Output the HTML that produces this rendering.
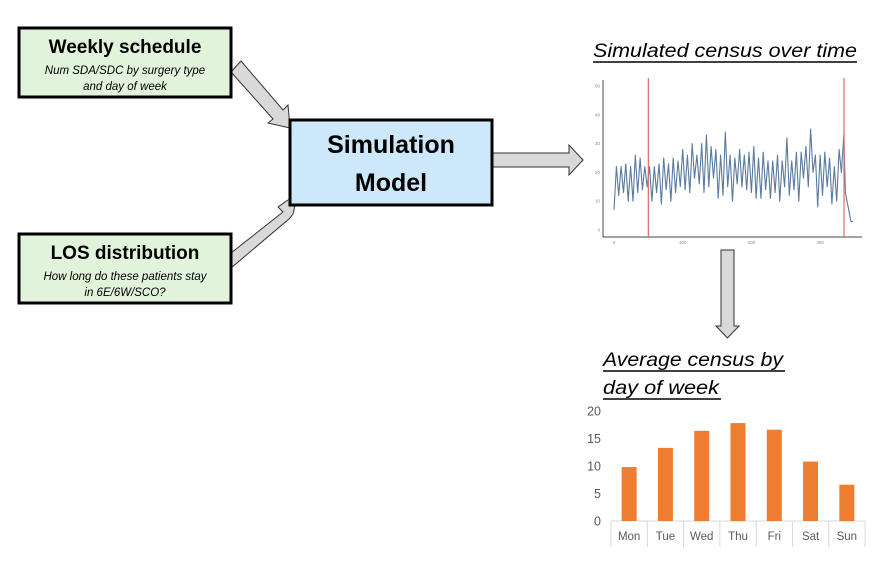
<!DOCTYPE html>
<html><head><meta charset="utf-8"><style>
body{margin:0;background:#fff;width:881px;height:575px;overflow:hidden}
svg{display:block;font-family:"Liberation Sans",sans-serif}
</style></head><body>
<svg id="root" width="881" height="575" viewBox="0 0 881 575">
<polygon points="231,72 241,61 283,110 288,105 290,128 268,123 273,119" fill="#d9d9d9" stroke="#333" stroke-width="1"/>
<polygon points="231,268 231,253 283,212 278,207 298,193 293,214 289,219" fill="#d9d9d9" stroke="#333" stroke-width="1"/>
<polygon points="492,153 569,153 569,145 583,160 569,175 569,167 492,167" fill="#d9d9d9" stroke="#333" stroke-width="1"/>
<polygon points="721,250 734,250 734,326 739,326 727.5,338 716,326 721,326" fill="#d9d9d9" stroke="#333" stroke-width="1"/>
<g>
<rect x="19" y="28" width="212" height="69" fill="#e2f3dc" stroke="#000" stroke-width="3"/>
<text x="125" y="53" text-anchor="middle" font-size="19" font-weight="bold">Weekly schedule</text>
<text x="125" y="74" text-anchor="middle" font-size="11.5" font-style="italic">Num SDA/SDC by surgery type</text>
<text x="125" y="90" text-anchor="middle" font-size="11.5" font-style="italic">and day of week</text>
</g>
<g>
<rect x="19" y="234" width="212" height="69" fill="#e2f3dc" stroke="#000" stroke-width="3"/>
<text x="125" y="259" text-anchor="middle" font-size="19" font-weight="bold">LOS distribution</text>
<text x="125" y="280" text-anchor="middle" font-size="11.5" font-style="italic">How long do these patients stay</text>
<text x="125" y="296" text-anchor="middle" font-size="11.5" font-style="italic">in 6E/6W/SCO?</text>
</g>
<g>
<rect x="290" y="120" width="202" height="85" fill="#cde8fa" stroke="#000" stroke-width="3"/>
<text x="391" y="153" text-anchor="middle" font-size="25" font-weight="bold">Simulation</text>
<text x="391" y="191" text-anchor="middle" font-size="25" font-weight="bold">Model</text>
</g>
<text x="593" y="57" font-size="19" font-style="italic" textLength="264" lengthAdjust="spacingAndGlyphs">Simulated census over time</text>
<line x1="593" y1="62" x2="857" y2="62" stroke="#000" stroke-width="1.5"/>
<text x="603" y="366" font-size="19" font-style="italic" textLength="180" lengthAdjust="spacingAndGlyphs">Average census by</text>
<line x1="603" y1="371" x2="785" y2="371" stroke="#000" stroke-width="1.5"/>
<text x="603" y="394" font-size="19" font-style="italic" textLength="116" lengthAdjust="spacingAndGlyphs">day of week</text>
<line x1="603" y1="399" x2="721" y2="399" stroke="#000" stroke-width="1.5"/>
<g id="linechart"></g>
<g id="barchart"></g>
</svg>
<script>
const NS="http://www.w3.org/2000/svg";
// census samples taken every sampleStep days (alternating peaks / troughs)
const sampleStep=3.45;
const censusValues=[7,22,12,22,13,23,10,22,10,26,13,25,14,22,15,22,10,22,13,23,9,25,14,23,10,25,13,24,15,28,14,26,13,30,18,26,16,30,13,33,15,29,18,28,11,26,12,34,15,26,10,25,16,28,15,26,14,27,13,29,11,25,11,27,14,24,11,24,13,26,10,24,15,32,12,24,14,27,10,27,18,29,15,35,20,26,8,26,12,27,15,25,9,22,10,28,20,33];
const tailDays=[337,345,348];
const tailValues=[13,3,3];
const vLines=[50,335];
const yTicks=[0,10,20,30,40,50];
const xTicks=[0,100,200,300];

const lc=document.getElementById('linechart');
const lx=d=>614+d*(820-614)/300;
const ly=v=>230-v*(230-86)/50;
function mk(tag,attrs,parent){const e=document.createElementNS(NS,tag);for(const k in attrs)e.setAttribute(k,attrs[k]);parent.appendChild(e);return e;}
let ax=mk('line',{x1:603,y1:80,x2:603,y2:237,stroke:'#444','stroke-width':1},lc);


let bx=mk('line',{x1:603,y1:237,x2:862,y2:237,stroke:'#444','stroke-width':1},lc);


yTicks.forEach(t=>{const e=mk('text',{x:600,y:ly(t)+1.5,'font-size':4.5,fill:'#888','text-anchor':'end'},lc);e.textContent=t;

});
xTicks.forEach(t=>{const e=mk('text',{x:lx(t),y:244,'font-size':4.5,fill:'#888','text-anchor':'middle'},lc);e.textContent=t;

});
let pts=[];
censusValues.forEach((v,i)=>pts.push(lx(i*sampleStep).toFixed(1)+','+ly(v).toFixed(1)));
tailDays.forEach((d,i)=>pts.push(lx(d).toFixed(1)+','+ly(tailValues[i]).toFixed(1)));
let pl=mk('polyline',{points:pts.join(' '),fill:'none',stroke:'#5a7a9e','stroke-width':1.1,'stroke-linejoin':'round'},lc);


vLines.forEach(d=>{const e=mk('line',{x1:lx(d),y1:78,x2:lx(d),y2:237,stroke:'#e06a6a','stroke-width':1.2},lc);

});

const days=['Mon','Tue','Wed','Thu','Fri','Sat','Sun'];
const avgCensus=[9.8,13.3,16.4,17.8,16.6,10.8,6.6];
const barTicks=[0,5,10,15,20];
const bc=document.getElementById('barchart');
const bx0=611,bx1=865,cw=(bx1-bx0)/days.length;
const by=v=>521-v*(521-411)/20;
barTicks.forEach(t=>{const e=mk('text',{x:601,y:by(t)+4.5,'font-size':12.5,fill:'#595959','text-anchor':'end'},bc);e.textContent=t;

});
let base=mk('line',{x1:bx0,y1:521,x2:bx1,y2:521,stroke:'#d9d9d9','stroke-width':1},bc);


for(let i=0;i<=days.length;i++){const e=mk('line',{x1:bx0+i*cw,y1:521,x2:bx0+i*cw,y2:547,stroke:'#d9d9d9','stroke-width':1},bc);

}
days.forEach((d,i)=>{
const cx=bx0+(i+0.5)*cw;
const r=mk('rect',{x:cx-7.5,y:by(avgCensus[i]),width:15,height:521-by(avgCensus[i]),fill:'#ed7d31'},bc);


const t=mk('text',{x:cx,y:540,'font-size':11.5,fill:'#595959','text-anchor':'middle'},bc);t.textContent=d;


});
</script>
</body></html>
